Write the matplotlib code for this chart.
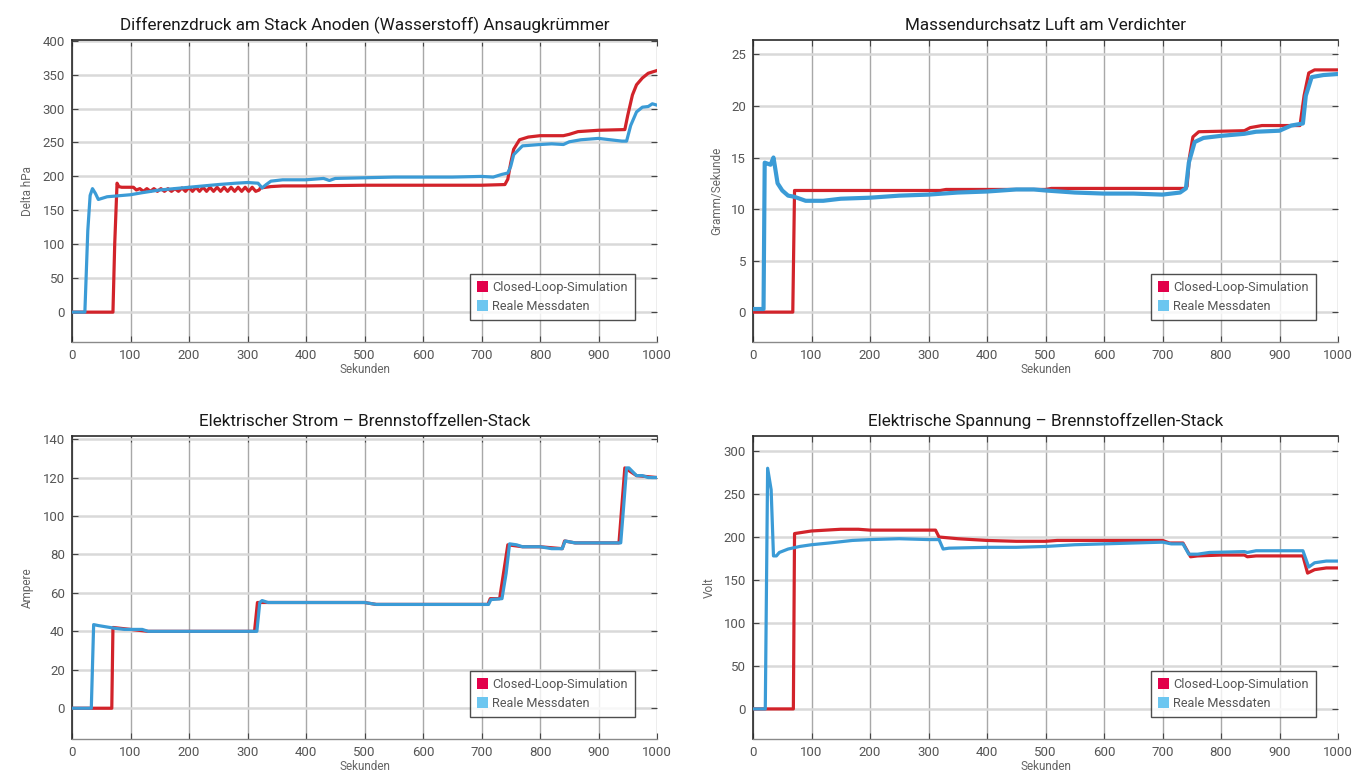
import numpy as np
import matplotlib
matplotlib.use("Agg")
import matplotlib.pyplot as plt
from matplotlib.patches import Patch

plt.rcParams['font.family'] = ['Roboto', 'DejaVu Sans']

# ---------------- data (time [s], value) ----------------
titles = ["Differenzdruck am Stack Anoden (Wasserstoff) Ansaugkrümmer",
          "Massendurchsatz Luft am Verdichter",
          "Elektrischer Strom – Brennstoffzellen-Stack",
          "Elektrische Spannung – Brennstoffzellen-Stack"]
ylabels = ["Delta hPa", "Gramm/Sekunde", "Ampere", "Volt"]
xlabel = "Sekunden"
legend_labels = ["Closed-Loop-Simulation", "Reale Messdaten"]
xticks = [0, 100, 200, 300, 400, 500, 600, 700, 800, 900, 1000]
yticks_dp = [0, 50, 100, 150, 200, 250, 300, 350, 400]
yticks_mf = [0, 5, 10, 15, 20, 25]
yticks_i = [0, 20, 40, 60, 80, 100, 120, 140]
yticks_u = [0, 50, 100, 150, 200, 250, 300]

sim_dp = [(0, 0), (70, 0), (73, 100), (77, 190), (80, 185), (85, 184), (105, 184),
          (110, 180), (116, 182), (122, 178), (128, 182), (134, 178), (140, 182),
          (146, 178), (152, 182), (158, 178), (164, 182), (170, 178), (176, 182),
          (182, 178), (188, 183), (194, 178), (200, 184), (206, 178), (212, 184),
          (218, 178), (224, 184), (230, 178), (236, 184), (242, 178), (248, 184),
          (254, 178), (260, 184), (266, 178), (272, 184), (278, 178), (284, 184),
          (290, 178), (296, 184), (302, 178), (308, 184), (314, 178), (320, 180),
          (322, 183), (340, 185), (360, 186), (400, 186), (500, 187), (600, 187),
          (700, 187), (740, 188), (745, 196), (750, 220), (755, 240), (765, 254),
          (780, 258), (800, 260), (840, 260), (850, 262), (865, 266), (900, 268),
          (945, 269), (950, 290), (958, 320), (965, 335), (975, 345), (985, 352),
          (1000, 356)]
meas_dp = [(0, 0), (22, 0), (27, 120), (31, 172), (35, 182), (40, 175), (45, 166),
           (60, 170), (100, 173), (120, 176), (150, 180), (200, 184), (250, 188),
           (280, 190), (300, 191), (318, 190), (325, 183), (332, 188), (340, 193),
           (360, 195), (400, 195), (430, 197), (440, 194), (450, 197), (500, 198),
           (550, 199), (600, 199), (650, 199), (700, 200), (720, 199), (735, 203),
           (745, 205), (750, 215), (755, 232), (770, 245), (800, 247), (820, 248),
           (840, 247), (845, 249), (850, 251), (870, 254), (900, 256), (920, 254),
           (940, 252), (948, 252), (955, 275), (965, 295), (975, 302), (985, 303),
           (992, 307), (1000, 305)]

sim_mf = [(0, 0), (68, 0), (71, 11.8), (320, 11.8), (330, 11.9), (500, 11.9),
          (510, 12.0), (738, 12.0), (742, 12.2), (746, 15.0), (752, 17.0),
          (762, 17.5), (840, 17.6), (850, 17.9), (870, 18.1), (935, 18.1),
          (942, 21.0), (950, 23.2), (960, 23.5), (1000, 23.5)]
meas_mf = [(0, 0.3), (18, 0.3), (20, 14.5), (25, 14.4), (30, 14.3), (35, 15.0),
           (37, 14.3), (42, 12.5), (50, 11.8), (60, 11.3), (70, 11.2), (80, 11.0),
           (90, 10.8), (100, 10.8), (120, 10.8), (150, 11.0), (200, 11.1),
           (250, 11.3), (300, 11.4), (350, 11.6), (400, 11.7), (450, 11.9),
           (480, 11.9), (500, 11.8), (550, 11.6), (600, 11.5), (650, 11.5),
           (700, 11.4), (730, 11.6), (740, 12.0), (745, 14.5), (755, 16.5),
           (770, 16.9), (800, 17.1), (840, 17.3), (860, 17.5), (900, 17.6),
           (920, 18.1), (940, 18.3), (945, 21.0), (955, 22.8), (975, 23.0),
           (1000, 23.1)]

sim_i = [(0, 0), (68, 0), (70, 42), (100, 41), (130, 40), (312, 40), (317, 55),
         (500, 55), (520, 54), (711, 54), (715, 57), (731, 57), (745, 85),
         (770, 84), (800, 84), (838, 83), (842, 87), (860, 86), (935, 86),
         (945, 125), (965, 121), (1000, 120)]
meas_i = [(0, 0), (33, 0), (37, 43.5), (45, 43), (65, 42), (75, 41.5), (90, 41),
          (120, 41), (130, 40), (316, 40), (321, 55), (325, 56), (335, 55),
          (500, 55), (520, 54), (712, 54), (716, 56.5), (735, 57), (742, 70),
          (748, 85.5), (760, 85), (770, 84), (800, 84), (820, 83), (838, 83),
          (843, 87), (860, 86), (938, 86), (943, 105), (948, 125), (952, 125),
          (965, 121), (975, 121), (985, 120), (1000, 120)]

sim_u = [(0, 0), (69, 0), (71, 204), (100, 207), (150, 209), (180, 209), (200, 208),
         (312, 208), (318, 200), (350, 198), (400, 196), (450, 195), (500, 195),
         (520, 196), (700, 196), (712, 193), (735, 193), (748, 177), (760, 178),
         (800, 179), (840, 179), (845, 177), (860, 178), (940, 178), (948, 158),
         (960, 162), (980, 164), (1000, 164)]
meas_u = [(0, 0), (21, 0), (25, 280), (31, 255), (35, 178), (40, 178), (45, 182),
          (60, 186), (80, 189), (100, 191), (130, 193), (170, 196), (200, 197),
          (250, 198), (300, 197), (318, 197), (325, 186), (335, 187), (400, 188),
          (450, 188), (500, 189), (550, 191), (600, 192), (650, 193), (700, 194),
          (715, 192), (735, 192), (745, 180), (760, 180), (780, 182), (840, 183),
          (845, 182), (860, 184), (940, 184), (950, 165), (960, 170), (980, 172),
          (1000, 172)]

ylims = [(-44, 401), (-2.9, 26.4), (-16, 141.6), (-35, 317.5)]

# ---------------- styling ----------------
RED = "#d2232a"
BLUE = "#3b9bd6"
LEG_RED = "#e2004a"
LEG_BLUE = "#6cc6f0"

fig = plt.figure(figsize=(13.54, 7.77), dpi=100)
fig.patch.set_facecolor("white")

axes_pos = [
    (72 / 1354, 1 - 342 / 777, 585 / 1354, 302 / 777),
    (753 / 1354, 1 - 342 / 777, 585 / 1354, 302 / 777),
    (72 / 1354, 1 - 739 / 777, 585 / 1354, 303 / 777),
    (753 / 1354, 1 - 739 / 777, 585 / 1354, 303 / 777),
]

series = [(sim_dp, meas_dp, yticks_dp), (sim_mf, meas_mf, yticks_mf),
          (sim_i, meas_i, yticks_i), (sim_u, meas_u, yticks_u)]
blue_lw = [2.3, 3.0, 2.3, 2.3]

for k, (pos, (sim, meas, yt)) in enumerate(zip(axes_pos, series)):
    ax = fig.add_axes(pos)
    st, sv = np.array(sim, dtype=float).T
    mt, mv = np.array(meas, dtype=float).T
    ax.plot(st, sv, color=RED, lw=2.3, solid_joinstyle="round", zorder=3)
    ax.plot(mt, mv, color=BLUE, lw=blue_lw[k], solid_joinstyle="round", zorder=4)

    ax.set_xlim(0, 1000)
    ax.set_ylim(*ylims[k])
    ax.set_xticks(xticks)
    ax.set_yticks(yt)
    ax.xaxis.grid(True, color="#a8a8a8", lw=1.0)
    ax.yaxis.grid(True, color="#d9d9d9", lw=1.8)
    ax.set_axisbelow(True)

    for s in ["left", "top"]:
        ax.spines[s].set_color("#2a2a2a")
        ax.spines[s].set_linewidth(1.2)
    ax.spines["bottom"].set_color("#8a8a8a")
    ax.spines["bottom"].set_linewidth(1.0)
    ax.spines["right"].set_visible(False)

    ax.tick_params(axis="both", which="both", direction="in", length=4,
                   color="#444444", labelsize=9.5, labelcolor="#555555",
                   top=True, right=True, pad=5)

    ax.set_title(titles[k], fontsize=12.3, color="#1a1a1a", pad=7)
    ax.set_ylabel(ylabels[k], fontsize=8.5, color="#666666", labelpad=6)
    ax.set_xlabel(xlabel, fontsize=8.5, color="#666666", labelpad=1)

    handles = [Patch(facecolor=LEG_RED, edgecolor="none"),
               Patch(facecolor=LEG_BLUE, edgecolor="none")]
    leg = ax.legend(handles, legend_labels, loc="lower right",
                    bbox_to_anchor=(0.962, 0.073), fontsize=9.2,
                    frameon=True, fancybox=False, handlelength=0.85,
                    handleheight=0.95, handletextpad=0.35, borderpad=0.55,
                    labelspacing=0.45, borderaxespad=0)
    leg.get_frame().set_edgecolor("#222222")
    leg.get_frame().set_linewidth(1.0)
    for t in leg.get_texts():
        t.set_color("#555555")

fig.savefig("out.png", dpi=100, facecolor="white")
